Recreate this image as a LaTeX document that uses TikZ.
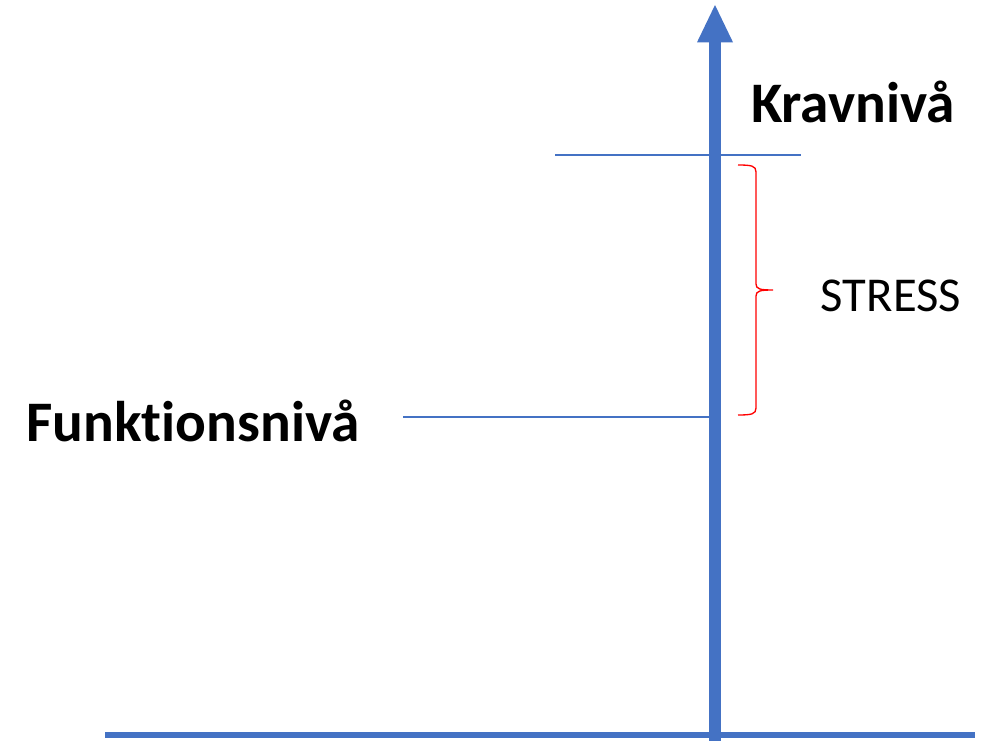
\documentclass[tikz,border=0pt]{standalone}
\usepackage{fontspec}
\setmainfont{Carlito}[Ligatures=NoCommon]
\usepackage{tikz}
\usetikzlibrary{arrows.meta}

\begin{document}
\begin{tikzpicture}[x=0.75pt,y=-0.75pt]

	\definecolor{axisblue}{RGB}{68,114,196}
	\definecolor{bracered}{RGB}{255,0,0}
	\useasboundingbox (0,0) rectangle (990,741);

	\tikzstyle{axisline} = [draw=axisblue,line width=9pt,-{Triangle[width=27pt,length=28pt,line width=0pt]}]
	\tikzstyle{baseline} = [draw=axisblue,line width=3.8pt]
	\tikzstyle{levelline} = [draw=axisblue,line width=1pt]
	\tikzset{levellabel/.style = {font=\bfseries\fontsize{43}{50}\selectfont,inner sep=0pt,anchor=base}}

	\coordinate (origin) at (715,741);
	\coordinate (top) at (715,5);
	\coordinate (xl) at (105,735);
	\coordinate (xr) at (975,735);

	\coordinate (krav1) at (555,155);
	\coordinate (krav2) at (801,155);
	\coordinate (funk1) at (403,417);
	\coordinate (funk2) at (715,417);

	\node[levellabel] (krav) at (853,123) {Kravnivå};
	\node[levellabel] (funk) at (193,442) {Funktionsnivå};
	\node[font=\fontsize{36.5}{42}\selectfont,inner sep=0pt,anchor=base] (stress) at (891,312) {STRESS};

	\draw[baseline] (xl) to (xr);
	\draw[levelline] (krav1) to (krav2);
	\draw[levelline] (funk1) to (funk2);
	\draw[axisline] (origin) to (top);

	% brace
	\draw[bracered,line width=1pt] (738,165) .. controls (752,165) and (756,166) .. (756,172)
		-- (756,284) .. controls (756,289) and (760,290) .. (773,290)
		.. controls (760,290) and (756,291) .. (756,296)
		-- (756,408) .. controls (756,414) and (752,415) .. (738,415);
\end{tikzpicture}
\end{document}
